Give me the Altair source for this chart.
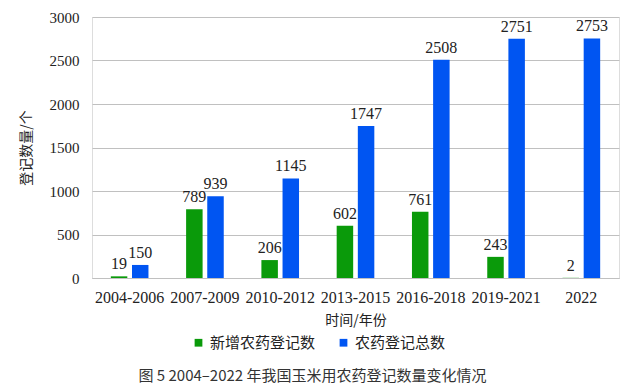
import altair as alt
import pandas as pd

periods = ["2004-2006", "2007-2009", "2010-2012", "2013-2015", "2016-2018", "2019-2021", "2022"]
new_reg = [19, 789, 206, 602, 761, 243, 2]
total_reg = [150, 939, 1145, 1747, 2508, 2751, 2753]
series = ["新增农药登记数", "农药登记总数"]
colors = ["#0A9A0A", "#0055F2"]

rows = []
for p, a, b in zip(periods, new_reg, total_reg):
    rows.append({"period": p, "series": series[0], "value": a})
    rows.append({"period": p, "series": series[1], "value": b})
df = pd.DataFrame(rows)

cjk = "Noto Sans CJK SC"
num_font = "Liberation Serif"

x = alt.X("period:N", sort=periods, title="时间/年份",
          scale=alt.Scale(paddingInner=0.5, paddingOuter=0.25),
          axis=alt.Axis(labelAngle=0, labelFont=num_font, labelFontSize=16, labelColor="#222",
                        titleFont=cjk, titleFontSize=14, titleFontWeight="normal", titleColor="#222",
                        ticks=False, domainColor="#c0c0c0", labelPadding=11, titlePadding=8))
xo = alt.XOffset("series:N", sort=series, scale=alt.Scale(paddingInner=0.22, paddingOuter=0))
y = alt.Y("value:Q", title="登记数量/个",
          scale=alt.Scale(domain=[0, 3000], nice=False),
          axis=alt.Axis(values=[0, 500, 1000, 1500, 2000, 2500, 3000], format="d", labelFont=num_font,
                        labelFontSize=15, labelColor="#222", ticks=False, domain=False,
                        gridColor="#c0c0c0", labelPadding=13,
                        titleFont=cjk, titleFontSize=14, titleFontWeight="normal", titleColor="#222",
                        titlePadding=16))
color = alt.Color("series:N", sort=series, scale=alt.Scale(domain=series, range=colors),
                  legend=alt.Legend(orient="none", legendX=99, legendY=318, direction="horizontal",
                                    title=None, symbolType="square", symbolSize=60,
                                    labelFont=cjk, labelFontSize=15, labelColor="#222",
                                    columnPadding=20, symbolStrokeWidth=0))

base = alt.Chart(df)
bars = base.mark_bar().encode(x=x, xOffset=xo, y=y, color=color)
labels = base.mark_text(dy=-12, font=num_font, fontSize=16, color="#222").encode(
    x=alt.X("period:N", sort=periods), xOffset=xo, y="value:Q", text="value:Q")

chart = (bars + labels).properties(
    width=527, height=261,
    title=alt.TitleParams("图 5 2004–2022 年我国玉米用农药登记数量变化情况", orient="bottom",
                          font=cjk, fontSize=15, fontWeight="normal", color="#333", offset=18, dx=-43),
    padding={"left": 11, "top": 2, "right": 6, "bottom": 2},
).configure_view(stroke=None).configure(background="white")

chart.save("out.html", embed_options={"renderer": "svg", "actions": False})
